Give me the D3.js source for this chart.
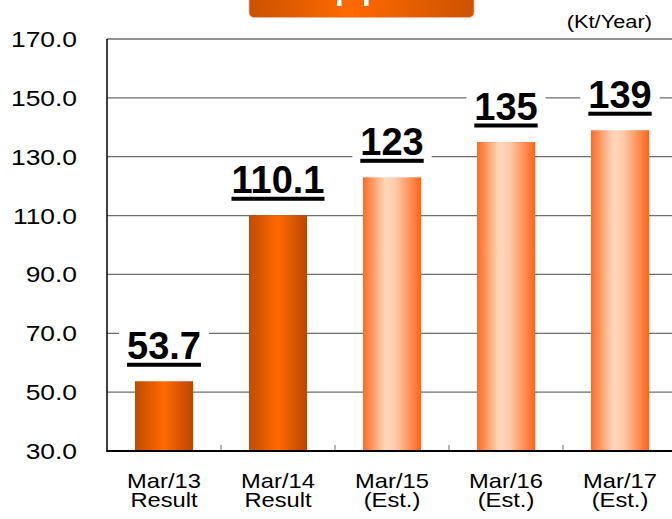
<!DOCTYPE html>
<html>
<head>
<meta charset="utf-8">
<script src="https://cdn.jsdelivr.net/npm/d3@7"></script>
<style>
  body { margin: 0; background: #fff; }
  #chart svg { display: block; }
</style>
</head>
<body>
<div id="chart"></div>
<script>
// du lieu doc tu hinh
const categories = ["Mar/13", "Mar/14", "Mar/15", "Mar/16", "Mar/17"];
const subLabels = ["Result", "Result", "(Est.)", "(Est.)", "(Est.)"];
const values = [53.7, 110.1, 123, 135, 139];
const valueLabels = ["53.7", "110.1", "123", "135", "139"];
const isResult = [true, true, false, false, false];
const yTicks = [30, 50, 70, 90, 110, 130, 150, 170];
const unitLabel = "(Kt/Year)";

const W = 672, H = 519;
const plotLeft = 107, plotTop = 39, plotBottom = 451;
const font = "'Liberation Sans', Arial, sans-serif";

const svg = d3.select("#chart")
    .append("svg")
    .attr("width", W)
    .attr("height", H);

const defs = svg.append("defs");

// gradient cho cot ket qua (cam dam)
const gRes = defs.append("linearGradient").attr("id", "gradResult");
[[0, "#c04c00"], [0.5, "#ff6a00"], [1, "#b84700"]].forEach(s =>
    gRes.append("stop").attr("offset", s[0]).attr("stop-color", s[1]));

// gradient cho cot du bao (cam nhat)
const gEst = defs.append("linearGradient").attr("id", "gradEst");
[[0, "#ff6a22"], [0.38, "#ffd7bc"], [0.55, "#ffcdac"], [1, "#ff6418"]].forEach(s =>
    gEst.append("stop").attr("offset", s[0]).attr("stop-color", s[1]));

// gradient cho hop tieu de
const gHead = defs.append("linearGradient").attr("id", "gradHead");
[[0, "#cc5200"], [0.45, "#ff6a00"], [1, "#cc5200"]].forEach(s =>
    gHead.append("stop").attr("offset", s[0]).attr("stop-color", s[1]));

const yScale = d3.scaleLinear()
    .domain([30, 170])
    .range([plotBottom, plotTop]);

const xScale = d3.scaleBand()
    .domain(categories)
    .range([plotLeft, plotLeft + 570])
    .paddingInner(0.49)
    .paddingOuter(0.245);

// hop tieu de bi cat o tren
svg.append("rect")
    .attr("x", 249).attr("y", -10)
    .attr("width", 225).attr("height", 27.5)
    .attr("rx", 5)
    .attr("fill", "url(#gradHead)")
    .attr("stroke", "#f3b48a")
    .attr("stroke-width", 0.8);
svg.append("rect").attr("x", 337).attr("y", 0).attr("width", 4.5).attr("height", 6).attr("fill", "#fff");
svg.append("rect").attr("x", 364).attr("y", 0).attr("width", 4.5).attr("height", 6).attr("fill", "#fff");

// luoi ngang
svg.append("g")
    .selectAll("line")
    .data(yTicks.filter(d => d > 30))
    .enter()
    .append("line")
    .attr("x1", plotLeft).attr("x2", W)
    .attr("y1", d => yScale(d)).attr("y2", d => yScale(d))
    .attr("stroke", "#6e6e6e")
    .attr("stroke-width", 1.3);

// nhan truc y
svg.append("g")
    .selectAll("text")
    .data(yTicks)
    .enter()
    .append("text")
    .attr("transform", d => `translate(77,${yScale(d) + 8}) scale(1.2,1)`)
    .attr("text-anchor", "end")
    .attr("font-family", font)
    .attr("font-size", "22px")
    .attr("fill", "#000")
    .text(d => d.toFixed(1));

// vach chia nhom o truc x
svg.append("g")
    .selectAll("line")
    .data(d3.range(1, categories.length))
    .enter()
    .append("line")
    .attr("x1", i => plotLeft + xScale.step() * i).attr("x2", i => plotLeft + xScale.step() * i)
    .attr("y1", plotBottom).attr("y2", plotBottom - 6)
    .attr("stroke", "#888")
    .attr("stroke-width", 1.2);

// cot
svg.selectAll(".bar")
    .data(categories)
    .enter()
    .append("rect")
    .attr("class", "bar")
    .attr("x", d => xScale(d))
    .attr("y", (d, i) => yScale(values[i]))
    .attr("width", xScale.bandwidth())
    .attr("height", (d, i) => plotBottom - yScale(values[i]))
    .attr("fill", (d, i) => isResult[i] ? "url(#gradResult)" : "url(#gradEst)");

// truc
svg.append("line")
    .attr("x1", plotLeft).attr("x2", plotLeft)
    .attr("y1", plotTop).attr("y2", plotBottom)
    .attr("stroke", "#000").attr("stroke-width", 1.5);
svg.append("line")
    .attr("x1", plotLeft - 0.75).attr("x2", W)
    .attr("y1", plotBottom).attr("y2", plotBottom)
    .attr("stroke", "#000").attr("stroke-width", 1.8);

// nhan gia tri gach chan, nen trang
const lbl = svg.selectAll(".val")
    .data(categories)
    .enter()
    .append("g")
    .attr("class", "val");

lbl.each(function(d, i) {
    const g = d3.select(this);
    const cx = xScale(d) + xScale.bandwidth() / 2;
    const base = yScale(values[i]) - 22;
    const bg = g.append("rect").attr("fill", "#fff");
    const t = g.append("text")
        .attr("x", cx)
        .attr("y", base)
        .attr("text-anchor", "middle")
        .attr("font-family", font)
        .attr("font-weight", "bold")
        .attr("font-size", "38px")
        .attr("fill", "#000")
        .text(valueLabels[i]);
    const w = t.node().getComputedTextLength();
    g.append("rect")
        .attr("x", cx - w / 2)
        .attr("y", base + 3.5)
        .attr("width", w)
        .attr("height", 4)
        .attr("fill", "#000");
    bg.attr("x", cx - w / 2 - 8)
        .attr("y", base - 34)
        .attr("width", w + 16)
        .attr("height", 46);
});

// nhan truc x (2 dong)
const xl = svg.append("g")
    .selectAll("text")
    .data(categories)
    .enter()
    .append("text")
    .attr("transform", d => `translate(${xScale(d) + xScale.bandwidth() / 2},0) scale(1.13,1)`)
    .attr("text-anchor", "middle")
    .attr("font-family", font)
    .attr("font-size", "21px")
    .attr("fill", "#000");
xl.append("tspan").attr("x", 0).attr("y", 488).text(d => d);
xl.append("tspan").attr("x", 0).attr("y", 507.5).text((d, i) => subLabels[i]);

// don vi
svg.append("text")
    .attr("transform", "translate(652,28) scale(1.18,1)")
    .attr("text-anchor", "end")
    .attr("font-family", font)
    .attr("font-size", "18.5px")
    .attr("fill", "#000")
    .text(unitLabel);
</script>
</body>
</html>
